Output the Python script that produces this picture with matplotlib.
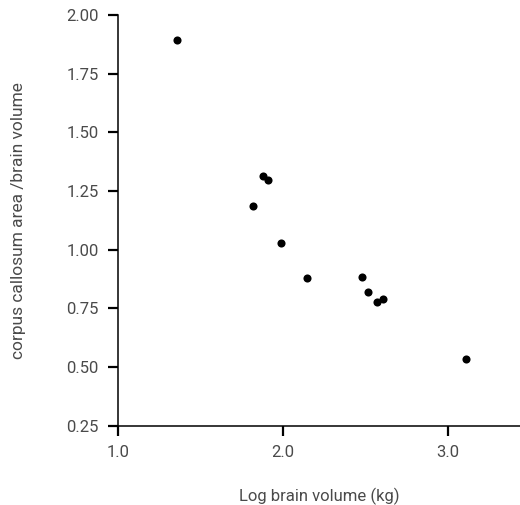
import matplotlib.pyplot as plt

plt.rcParams["font.family"] = ["Roboto", "DejaVu Sans"]

log_brain = [1.36, 1.88, 1.91, 1.82, 1.99, 2.15, 2.48, 2.52, 2.57, 2.61, 3.11]
cc_ratio = [1.896, 1.314, 1.298, 1.188, 1.03, 0.878, 0.883, 0.822, 0.778, 0.791, 0.536]
x_ticks = [1.0, 2.0, 3.0]
y_ticks = [0.25, 0.50, 0.75, 1.00, 1.25, 1.50, 1.75, 2.00]

fig = plt.figure(figsize=(5.2, 5.05), dpi=100)
ax = fig.add_axes([0.227, 0.157, 0.773, 0.813])

ax.scatter(log_brain, cc_ratio, s=34, color="black", marker="o", linewidths=0)

ax.set_xlim(1.0, 3.44)
ax.set_ylim(0.25, 2.0)
ax.set_xticks(x_ticks)
ax.set_xticklabels(["%.1f" % v for v in x_ticks])
ax.set_yticks(y_ticks)
ax.set_yticklabels(["%.2f" % v for v in y_ticks])

for s in ["top", "right"]:
    ax.spines[s].set_visible(False)
for s in ["left", "bottom"]:
    ax.spines[s].set_linewidth(1.1)
ax.tick_params(direction="out", length=7, width=1.6, labelsize=12,
               labelcolor="#4a4a4a", pad=7)

ax.set_xlabel("Log brain volume (kg)", fontsize=12, color="#4a4a4a", labelpad=20)
ax.set_ylabel("corpus callosum area /brain volume", fontsize=12.5, color="#4a4a4a",
              labelpad=29)

fig.savefig("out.png", dpi=100)
